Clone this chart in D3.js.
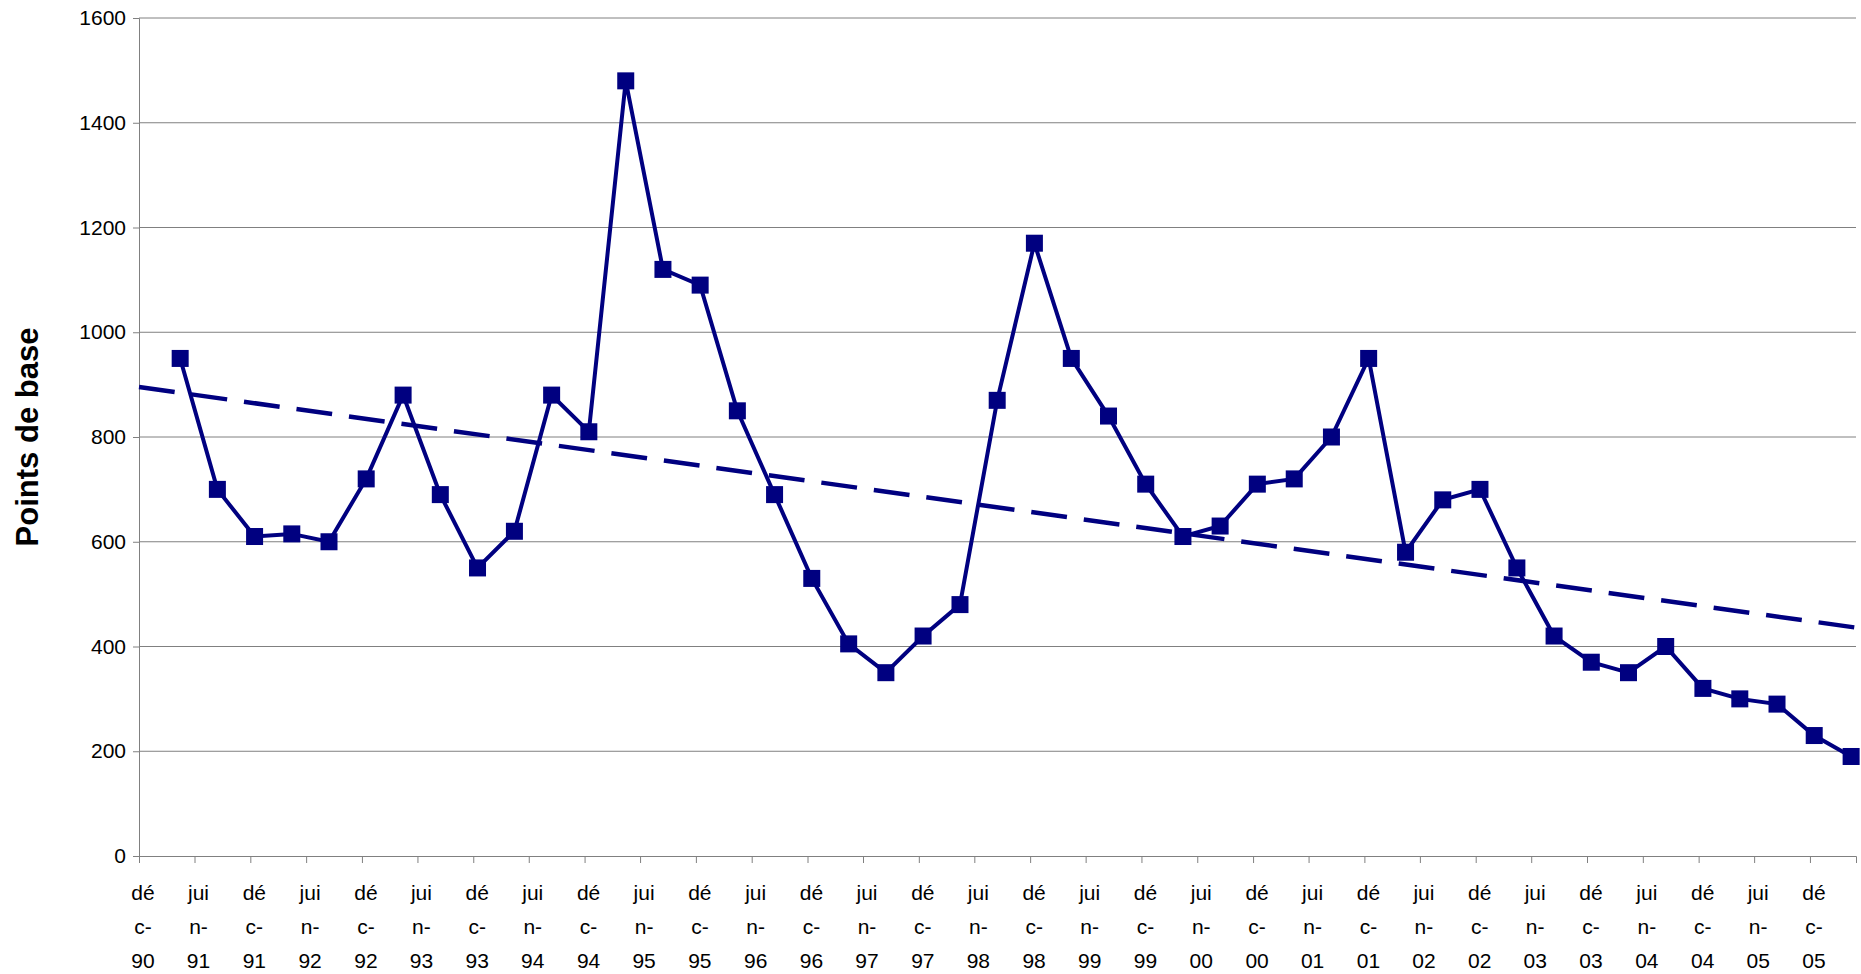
<!DOCTYPE html>
<html><head><meta charset="utf-8">
<script src="https://cdn.jsdelivr.net/npm/d3@7"></script>
<style>body{margin:0;background:#fff}text{font-family:"Liberation Sans",Arial,sans-serif}</style>
</head><body>
<script>
const values = [950,700,610,615,600,720,880,690,550,620,880,810,1480,1120,1090,850,690,530,405,350,420,480,870,1170,950,840,710,610,630,710,720,800,950,580,680,700,550,420,370,350,400,320,300,290,230,190];
const yTicks = [0,200,400,600,800,1000,1200,1400,1600];
const labelDates = d3.range(31).map(i => new Date(1990, 11 + 6 * i, 1));
const pointDates = values.map((v, i) => new Date(1991, 3 + 4 * i, 15));

const W = 1861, H = 974, margin = {left:139, top:18, right:5, bottom:118};
const svg = d3.select("body").append("svg").attr("width", W).attr("height", H);
const x = d3.scaleTime().domain([new Date(1990,11,1), new Date(2006,4,1)]).range([margin.left, W - margin.right]);
const y = d3.scaleLinear().domain([0,1600]).range([H - margin.bottom, margin.top]);

svg.selectAll(".grid").data(yTicks.slice(1)).enter().append("line")
  .attr("x1", x.range()[0]).attr("x2", x.range()[1])
  .attr("y1", d => y(d)).attr("y2", d => y(d)).attr("stroke", "#808080").attr("stroke-width", 1);

const yAxis = svg.append("g").attr("transform", `translate(${margin.left},0)`)
  .call(d3.axisLeft(y).tickValues(yTicks).tickSize(6).tickPadding(7).tickFormat(d3.format("d")));
const xAxis = svg.append("g").attr("transform", `translate(0,${y(0)})`)
  .call(d3.axisBottom(x).tickValues(labelDates).tickSize(7).tickFormat(""));
[yAxis, xAxis].forEach(g => { g.select(".domain").attr("stroke", "#808080"); g.selectAll(".tick line").attr("stroke", "#808080"); });
yAxis.selectAll("text").attr("font-size", 21).attr("fill", "#000").attr("font-family", "Liberation Sans, Arial");

const mois = d => d.getMonth() === 11 ? ["dé","c-"] : ["jui","n-"];
labelDates.forEach(d => {
  const t = svg.append("text").attr("text-anchor", "middle").attr("font-size", 21);
  [...mois(d), d3.timeFormat("%y")(d)].forEach((s, k) => t.append("tspan").attr("x", x(d) + 4).attr("y", y(0) + 44 + 34 * k).text(s));
});

// tendance linéaire
const n = values.length, xs = d3.range(n);
const mx = d3.mean(xs), my = d3.mean(values);
const b = d3.sum(xs, i => (i - mx) * (values[i] - my)) / d3.sum(xs, i => (i - mx) ** 2);
const a = my - b * mx;
const idx = d => (d - pointDates[0]) / (pointDates[1] - pointDates[0]);
const [d0, d1] = x.domain();
svg.append("line").attr("x1", x(d0)).attr("x2", x(d1))
  .attr("y1", y(a + b * idx(d0))).attr("y2", y(a + b * idx(d1)))
  .attr("stroke", "#000080").attr("stroke-width", 4.5).attr("stroke-dasharray", "36,17");

svg.append("path").datum(values)
  .attr("d", d3.line().x((v, i) => x(pointDates[i])).y(v => y(v)))
  .attr("fill", "none").attr("stroke", "#000080").attr("stroke-width", 4);
svg.selectAll(".pt").data(values).enter().append("rect")
  .attr("x", (v, i) => x(pointDates[i]) - 8.5).attr("y", v => y(v) - 8.5)
  .attr("width", 17).attr("height", 17).attr("fill", "#000080");

svg.append("text").attr("transform", `translate(38,${y(800)}) rotate(-90)`)
  .attr("text-anchor", "middle").attr("font-size", 31).attr("font-weight", "bold").text("Points de base");
</script>
</body></html>
